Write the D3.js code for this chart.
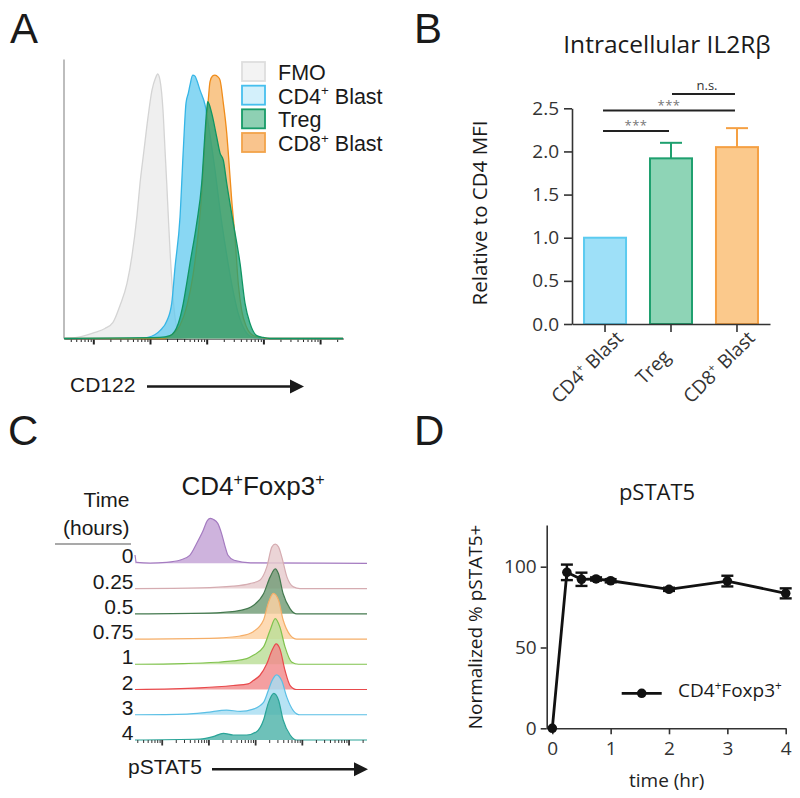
<!DOCTYPE html>
<html><head><meta charset="utf-8">
<script src="https://cdn.jsdelivr.net/npm/d3@7"></script>
<style>body{margin:0;background:#fff} svg{display:block}</style>
</head><body>
<svg id="fig" width="800" height="798"></svg>
<script>
// ================= DATA =================
// Panel A: CD122 histograms (x in log decades, y in % of max)
const histALabels = ["FMO", "CD4^+ Blast", "Treg", "CD8^+ Blast"];
const fmoU = [0.483,0.765,1.03,1.206,1.347,1.471,1.594,1.683,1.771,1.824,1.894,1.965,2.035,2.097,2.136,2.176,2.229,2.265,2.295,2.326,2.353,2.397,2.441,2.494,2.547,2.705,5.404];
const fmoH = [0,0.6,2.3,3.8,6.1,12.5,20.8,31.4,46.6,58.7,71.2,83.7,93.9,98.5,100,97.7,86.4,71.2,58.7,44.7,33.3,18.2,8.0,2.3,0.4,0,0];
const cd4U = [0.483,1.824,1.965,2.176,2.3,2.383,2.441,2.529,2.587,2.635,2.676,2.705,2.753,2.794,2.824,2.882,2.971,3.058,3.147,3.235,3.34,3.446,3.552,3.676,3.817,3.975,5.404];
const cd4H = [0,0,0.4,3,6.8,13.3,26.9,45.8,71.2,89,92.8,95.8,99.6,99.2,97.7,93.9,88.3,76.9,63.6,48.5,33.3,20.1,9.8,3,0.4,0,0];
const cd8U = [0.483,2.265,2.388,2.529,2.653,2.758,2.847,2.917,2.971,3.028,3.058,3.102,3.146,3.199,3.235,3.293,3.353,3.381,3.441,3.499,3.557,3.617,3.706,3.822,3.94,4.081,5.404];
const cd8H = [0,0,1.5,4.9,12.5,23.9,39,56.1,75,90.2,97,99.2,99.6,98.9,97.7,89,77.7,70.1,52.3,38.3,20.8,10.6,4.2,1.1,0.4,0,0];
const tregU = [0.483,2.176,2.353,2.499,2.587,2.647,2.705,2.824,2.912,2.97,3.0,3.018,3.088,3.176,3.235,3.293,3.353,3.469,3.588,3.676,3.764,3.882,3.993,4.116,5.404];
const tregH = [0,0.4,1.1,5.7,13.3,20.8,28.4,43.6,58.7,77.7,86.4,89.5,85.2,76.2,70.1,67.4,58.7,43.6,28.4,13.3,5.7,1.1,0.4,0,0];
const decadesA = [1,2,3,4,5];

// Panel B: bars
const barCategories = ["CD4^+ Blast", "Treg", "CD8^+ Blast"];
const barMeans = [1.0, 1.92, 2.05];
const barErrors = [0, 0.18, 0.22];
const barTicks = [0, 0.5, 1.0, 1.5, 2.0, 2.5];
const sigLabels = ["***", "***", "n.s."];
const sigFrom = [0, 0, 1];
const sigTo = [1, 2, 2];

// Panel C: pSTAT5 histograms per time point
const timeLabels = ["0", "0.25", "0.5", "0.75", "1", "2", "3", "4"];
const c0U = [0.428,0.46,0.75,1.1,1.4,1.6,1.75,1.88,1.98,2.04,2.1,2.2,2.28,2.35,2.42,2.55,2.9,5.395];
const c0H = [17.7,2,0.5,2,7,17,42.6,68,91.5,95.7,93.6,85,63.8,38.3,17,6.4,1,0];
const c025U = [0.428,1.82,2.53,2.89,3.1,3.25,3.36,3.43,3.5,3.57,3.68,3.82,3.96,5.395];
const c025H = [0,1.4,5,10.6,17.7,46,88.7,94.3,88.7,67.4,24.8,3.5,0,0];
const c05U = [0.428,2.18,2.68,2.96,3.18,3.32,3.43,3.5,3.6,3.75,3.89,5.395];
const c05H = [0,2.1,7.1,17.7,42.6,78,95.7,85,42.6,10.6,0,0];
const c075U = [0.428,2.18,2.68,2.96,3.18,3.28,3.39,3.5,3.6,3.75,3.89,5.395];
const c075H = [0,2.1,6.4,15.6,40.4,75.9,97.2,83,40.4,8.5,0,0];
const c1U = [0.428,1.46,2.18,2.53,2.82,2.96,3.18,3.32,3.43,3.53,3.64,3.78,3.93,5.395];
const c1H = [0,1.4,4.3,7.1,12,19.1,36.9,72.3,97.2,79.4,36.9,5,0,0];
const c2U = [0.428,1.82,2.53,2.85,2.96,3.1,3.25,3.36,3.45,3.53,3.64,3.75,3.89,5.395];
const c2H = [0,3.5,8.5,12,19.1,29.8,54.6,83,97.2,86.5,40.4,8.5,0,0];
const c3U = [0.428,1.54,1.96,2.39,2.68,2.96,3.18,3.28,3.36,3.46,3.57,3.68,3.82,3.96,5.395];
const c3H = [0,1.4,5,9.9,7.1,12,26.2,51,72.3,85,72.3,36.9,8.5,0,0];
const c4U = [0.428,1.82,2.1,2.32,2.53,2.82,3.03,3.18,3.28,3.4,3.5,3.6,3.75,3.89,5.395];
const c4H = [0,2.1,7.1,14.2,10.6,10.6,17.7,42.6,78,99.3,85,42.6,10.6,0,0];
const decadesC = [1,2,3,4,5];

// Panel D: time course
const timeHours = [0, 0.25, 0.5, 0.75, 1, 2, 3, 4];
const pstatMean = [0, 96.5, 92.2, 92.4, 91.3, 86.0, 91.1, 83.5];
const pstatErr = [0, 4.8, 4.1, 1.0, 1.0, 1.0, 3.3, 3.1];
const pstatYTicks = [0, 50, 100];
const pstatXTicks = [0, 1, 2, 3, 4];

// ================= DRAWING =================
const svg = d3.select("#fig");
const SANS = "'Liberation Sans', Arial, Helvetica, sans-serif";
const HUM = "'Open Sans', 'Noto Sans', sans-serif";

function rich(sel, label, size) {
  const parts = label.split(/(\^\+)/).filter(p => p.length);
  let shifted = false;
  parts.forEach(p => {
    if (p === "^+") {
      sel.append("tspan").text("+").attr("font-size", size * 0.62).attr("dy", -size * 0.38);
      shifted = true;
    } else {
      const t = sel.append("tspan").text(p);
      if (shifted) { t.attr("dy", size * 0.38); shifted = false; }
    }
  });
  return sel;
}
function zip(u, h) { return u.map((v, i) => [v, h[i]]); }
function minorTicks(lo, hi) {
  const out = [];
  for (let d = Math.floor(lo); d <= Math.ceil(hi); d++)
    for (let k = 2; k <= 9; k++) { const v = d + Math.log10(k); if (v >= lo && v <= hi) out.push(v); }
  return out;
}

// Panel letters
[["A", 10, 43], ["B", 414, 43], ["C", 8, 445], ["D", 414, 445]].forEach(([t, x, y]) =>
  svg.append("text").attr("x", x).attr("y", y).text(t)
    .attr("font-family", SANS).attr("font-size", 42).attr("fill", "#1a1a1a"));

// ---------- Panel A ----------
{
  const g = svg.append("g");
  const x = d3.scaleLinear().domain([0.483, 5.404]).range([64, 343]);
  const y = d3.scaleLinear().domain([0, 100]).range([338.5, 74]);
  g.append("line").attr("x1", 64).attr("x2", 64).attr("y1", y(105.5)).attr("y2", y(0))
    .attr("stroke", "#9a9a9a").attr("stroke-width", 1.3);
  const axMaj = d3.axisBottom(x).tickValues(decadesA).tickSize(6).tickFormat("").tickSizeOuter(0);
  const axMin = d3.axisBottom(x).tickValues(minorTicks(0.483, 5.404)).tickSize(3.5).tickFormat("").tickSizeOuter(0);
  const ga1 = g.append("g").attr("transform", `translate(0,${y(0)})`).call(axMaj);
  const ga2 = g.append("g").attr("transform", `translate(0,${y(0)})`).call(axMin);
  [ga1, ga2].forEach(a => { a.select(".domain").attr("stroke", "#333"); a.selectAll(".tick line").attr("stroke", "#222"); });
  ga1.selectAll(".tick line").attr("stroke-width", 2);
  ga2.selectAll(".tick line").attr("stroke-width", 1);

  const area = d3.area().x(d => x(d[0])).y0(y(0)).y1(d => y(d[1])).curve(d3.curveMonotoneX);
  const line = d3.line().x(d => x(d[0])).y(d => y(d[1])).curve(d3.curveMonotoneX);
  const series = [
    { d: zip(fmoU, fmoH), fill: "#e9e9e9", op: 0.75, stroke: "#d4d4d4" },
    { d: zip(cd4U, cd4H), fill: "#62c9ef", op: 0.75, stroke: "#35b5e6" },
    { d: zip(cd8U, cd8H), fill: "#f5a445", op: 0.62, stroke: "#f08c1a" },
    { d: zip(tregU, tregH), fill: "#22a074", op: 0.78, stroke: "#0f9563" }
  ];
  series.forEach(s => {
    g.append("path").datum(s.d).attr("d", area).attr("fill", s.fill).attr("fill-opacity", s.op);
    g.append("path").datum(s.d).attr("d", line).attr("fill", "none").attr("stroke", s.stroke).attr("stroke-width", 1.3);
  });

  const legFill = ["#f3f3f3", "#d3f0fb", "#8ed0b3", "#f9c48d"];
  const legStroke = ["#dedede", "#46bfee", "#179b68", "#f2a34a"];
  const legY = d3.scalePoint().domain(histALabels).range([62, 133]);
  histALabels.forEach((lab, i) => {
    g.append("rect").attr("x", 242).attr("y", legY(lab)).attr("width", 23).attr("height", 19)
      .attr("fill", legFill[i]).attr("stroke", legStroke[i]).attr("stroke-width", 1.8);
    rich(g.append("text").attr("x", 278).attr("y", legY(lab) + 18).attr("font-family", SANS)
      .attr("font-size", 21.5).attr("fill", "#1a1a1a"), lab, 21.5);
  });
  g.append("text").attr("x", 70).attr("y", 392).text("CD122").attr("font-family", SANS).attr("font-size", 21).attr("fill", "#1a1a1a");
  g.append("line").attr("x1", 147).attr("x2", 292).attr("y1", 386.5).attr("y2", 386.5).attr("stroke", "#1a1a1a").attr("stroke-width", 2.5);
  g.append("path").attr("d", "M290,379.5 L304,386.5 L290,393.5 Z").attr("fill", "#1a1a1a");
}

// ---------- Panel B ----------
{
  const g = svg.append("g");
  const y = d3.scaleLinear().domain([0, 2.5]).range([324, 108.3]);
  const x = d3.scaleBand().domain(barCategories).range([572, 770]).paddingInner(0.333).paddingOuter(0.167);
  const barFill = ["#9ee0f8", "#8ed4b6", "#fbc98c"];
  const barStroke = ["#5ccbf0", "#1fa06f", "#f5a043"];

  g.append("text").attr("x", 667).attr("y", 53).attr("text-anchor", "middle").text("Intracellular IL2Rβ")
    .attr("font-family", HUM).attr("font-size", 24.5).attr("fill", "#1a1a1a");

  barCategories.forEach((c, i) => {
    const x0 = x(c), bw = x.bandwidth(), cx = x0 + bw / 2;
    if (barErrors[i] > 0) {
      g.append("line").attr("x1", cx).attr("x2", cx).attr("y1", y(barMeans[i])).attr("y2", y(barMeans[i] + barErrors[i]))
        .attr("stroke", barStroke[i]).attr("stroke-width", 2);
      g.append("line").attr("x1", cx - 11).attr("x2", cx + 11).attr("y1", y(barMeans[i] + barErrors[i])).attr("y2", y(barMeans[i] + barErrors[i]))
        .attr("stroke", barStroke[i]).attr("stroke-width", 2);
    }
    g.append("rect").attr("x", x0 + 1).attr("y", y(barMeans[i])).attr("width", bw - 2).attr("height", y(0) - y(barMeans[i]))
      .attr("fill", barFill[i]).attr("stroke", barStroke[i]).attr("stroke-width", 2);
  });

  const ay = d3.axisLeft(y).tickValues(barTicks).tickFormat(d3.format(".1f")).tickSize(8).tickSizeOuter(0);
  const gy = g.append("g").attr("transform", "translate(572,0)").call(ay);
  gy.selectAll("text").attr("font-family", HUM).attr("font-size", 19).attr("fill", "#333").attr("dx", -2);
  const ax = d3.axisBottom(x).tickSize(8).tickSizeOuter(0).tickFormat("");
  const gx = g.append("g").attr("transform", "translate(0,324)").call(ax);
  [gy, gx].forEach(a => { a.selectAll("path,line").attr("stroke", "#333").attr("stroke-width", 1.6); });

  barCategories.forEach(c => {
    const cx = x(c) + x.bandwidth() / 2;
    rich(g.append("text").attr("transform", `translate(${cx - 18},${367}) rotate(-45)`)
      .attr("text-anchor", "middle").attr("dy", "0.35em")
      .attr("font-family", HUM).attr("font-size", 19).attr("fill", "#333"), c, 19);
  });

  g.append("text").attr("transform", "translate(487,213) rotate(-90)").attr("text-anchor", "middle")
    .text("Relative to CD4 MFI").attr("font-family", HUM).attr("font-size", 20.5).attr("fill", "#1a1a1a");

  const sigY = [131, 110.5, 94];
  const sigTextY = [129.5, 109.5, 89.5];
  sigLabels.forEach((lab, i) => {
    const x1 = x(barCategories[sigFrom[i]]) + x.bandwidth() / 2 - 2 + (i === 2 ? 3 : 0);
    const x2 = x(barCategories[sigTo[i]]) + x.bandwidth() / 2 - 2;
    g.append("line").attr("x1", x1).attr("x2", x2).attr("y1", sigY[i]).attr("y2", sigY[i]).attr("stroke", "#222").attr("stroke-width", 1.8);
    const isNS = lab === "n.s.";
    g.append("text").attr("x", isNS ? 707 : (x1 + x2) / 2).attr("y", sigTextY[i]).attr("text-anchor", "middle").text(lab)
      .attr("font-family", HUM).attr("font-size", isNS ? 13 : 13).attr("fill", isNS ? "#333" : "#777")
      .attr("letter-spacing", isNS ? 0 : 0.5);
  });
}

// ---------- Panel C ----------
{
  const g = svg.append("g");
  const x = d3.scaleLinear().domain([0.428, 5.395]).range([135, 367]);
  const rowY = d3.scalePoint().domain(timeLabels).range([563.3, 740]);
  const h = d3.scaleLinear().domain([0, 100]).range([0, 47]);
  const rows = [zip(c0U, c0H), zip(c025U, c025H), zip(c05U, c05H), zip(c075U, c075H),
                zip(c1U, c1H), zip(c2U, c2H), zip(c3U, c3H), zip(c4U, c4H)];
  const fills = ["#c3a2d6", "#e6cbcd", "#729c76", "#fcd2a3", "#bbde97", "#f28a8b", "#a7ddf2", "#4eb3a9"];
  const strokes = ["#a47bc0", "#d5acb1", "#44794f", "#f5ae68", "#80c24e", "#e84a4c", "#5abfe5", "#2aa498"];

  rich(g.append("text").attr("x", 253).attr("y", 495).attr("text-anchor", "middle")
    .attr("font-family", SANS).attr("font-size", 26).attr("fill", "#1a1a1a"), "CD4^+Foxp3^+", 26);
  g.append("text").attr("x", 129.5).attr("y", 507).attr("text-anchor", "end").text("Time")
    .attr("font-family", SANS).attr("font-size", 21).attr("fill", "#1a1a1a");
  g.append("text").attr("x", 129.5).attr("y", 535).attr("text-anchor", "end").text("(hours)")
    .attr("font-family", SANS).attr("font-size", 21).attr("fill", "#1a1a1a");
  g.append("line").attr("x1", 55).attr("x2", 131).attr("y1", 544).attr("y2", 544).attr("stroke", "#555").attr("stroke-width", 1.2);

  timeLabels.forEach((t, i) => {
    const base = rowY(t);
    const area = d3.area().x(d => x(d[0])).y0(base).y1(d => base - h(d[1])).curve(d3.curveMonotoneX);
    const line = d3.line().x(d => x(d[0])).y(d => base - h(d[1])).curve(d3.curveMonotoneX);
    g.append("path").datum(rows[i]).attr("d", area).attr("fill", fills[i]).attr("fill-opacity", 0.82);
    g.append("path").datum(rows[i]).attr("d", line).attr("fill", "none").attr("stroke", strokes[i]).attr("stroke-width", 1.2);
    g.append("text").attr("x", 133.5).attr("y", base).attr("text-anchor", "end").text(t)
      .attr("font-family", SANS).attr("font-size", 21).attr("fill", "#1a1a1a");
  });

  const base = rowY("4");
  const axMaj = d3.axisBottom(x).tickValues(decadesC).tickSize(5.5).tickFormat("").tickSizeOuter(0);
  const axMin = d3.axisBottom(x).tickValues(minorTicks(0.428, 5.395)).tickSize(3).tickFormat("").tickSizeOuter(0);
  const a1 = g.append("g").attr("transform", `translate(0,${base})`).call(axMaj);
  const a2 = g.append("g").attr("transform", `translate(0,${base})`).call(axMin);
  [a1, a2].forEach(a => { a.select(".domain").remove(); a.selectAll(".tick line").attr("stroke", "#333"); });
  a1.selectAll(".tick line").attr("stroke-width", 1.8);

  g.append("text").attr("x", 128).attr("y", 773.5).text("pSTAT5").attr("font-family", SANS).attr("font-size", 21).attr("fill", "#1a1a1a");
  g.append("line").attr("x1", 212).attr("x2", 356).attr("y1", 769.3).attr("y2", 769.3).attr("stroke", "#1a1a1a").attr("stroke-width", 2.5);
  g.append("path").attr("d", "M354,762.3 L368,769.3 L354,776.3 Z").attr("fill", "#1a1a1a");
}

// ---------- Panel D ----------
{
  const g = svg.append("g");
  const x = d3.scaleLinear().domain([-0.096, 4]).range([546.7, 785.7]);
  const y = d3.scaleLinear().domain([0, 125.8]).range([728.3, 525]);

  g.append("text").attr("x", 657).attr("y", 500).attr("text-anchor", "middle").text("pSTAT5")
    .attr("font-family", HUM).attr("font-size", 22).attr("fill", "#1a1a1a");

  const ay = d3.axisLeft(y).tickValues(pstatYTicks).tickFormat(d3.format("d")).tickSize(6).tickSizeOuter(0);
  const gy = g.append("g").attr("transform", "translate(546.7,0)").call(ay);
  const ax = d3.axisBottom(x).tickValues(pstatXTicks).tickFormat(d3.format("d")).tickSize(6).tickSizeOuter(0);
  const gx = g.append("g").attr("transform", "translate(0,728.3)").call(ax);
  [gy, gx].forEach(a => {
    a.selectAll("path,line").attr("stroke", "#333").attr("stroke-width", 1.6);
    a.selectAll("text").attr("font-family", HUM).attr("font-size", 19).attr("fill", "#333");
  });
  gx.selectAll("text").attr("dy", "0.95em");
  gy.selectAll("text").attr("dx", -1);

  g.append("text").attr("x", 666.7).attr("y", 787).attr("text-anchor", "middle").text("time (hr)")
    .attr("font-family", HUM).attr("font-size", 19).attr("font-weight", 400).attr("fill", "#222");
  g.append("text").attr("transform", "translate(482,627) rotate(-90)").attr("text-anchor", "middle")
    .text("Normalized % pSTAT5+").attr("font-family", HUM).attr("font-size", 19).attr("fill", "#1a1a1a");

  const pts = timeHours.map((t, i) => ({ t, m: pstatMean[i], e: pstatErr[i] }));
  g.append("path").datum(pts).attr("d", d3.line().x(d => x(d.t)).y(d => y(d.m)))
    .attr("fill", "none").attr("stroke", "#111").attr("stroke-width", 2.8);
  pts.forEach(d => {
    if (d.e > 0) {
      const cx = x(d.t);
      g.append("line").attr("x1", cx).attr("x2", cx).attr("y1", y(d.m - d.e)).attr("y2", y(d.m + d.e)).attr("stroke", "#111").attr("stroke-width", 2.4);
      [d.m - d.e, d.m + d.e].forEach(v => g.append("line").attr("x1", cx - 6).attr("x2", cx + 6).attr("y1", y(v)).attr("y2", y(v)).attr("stroke", "#111").attr("stroke-width", 2.4));
    }
    g.append("circle").attr("cx", x(d.t)).attr("cy", y(d.m)).attr("r", 4.8).attr("fill", "#111");
  });

  g.append("line").attr("x1", 621.7).attr("x2", 661.7).attr("y1", 693.3).attr("y2", 693.3).attr("stroke", "#111").attr("stroke-width", 2.8);
  g.append("circle").attr("cx", 641.7).attr("cy", 693.3).attr("r", 4.8).attr("fill", "#111");
  rich(g.append("text").attr("x", 678).attr("y", 697).attr("font-family", HUM).attr("font-size", 19).attr("fill", "#1a1a1a"), "CD4^+Foxp3^+", 19);
}
</script>
</body></html>
